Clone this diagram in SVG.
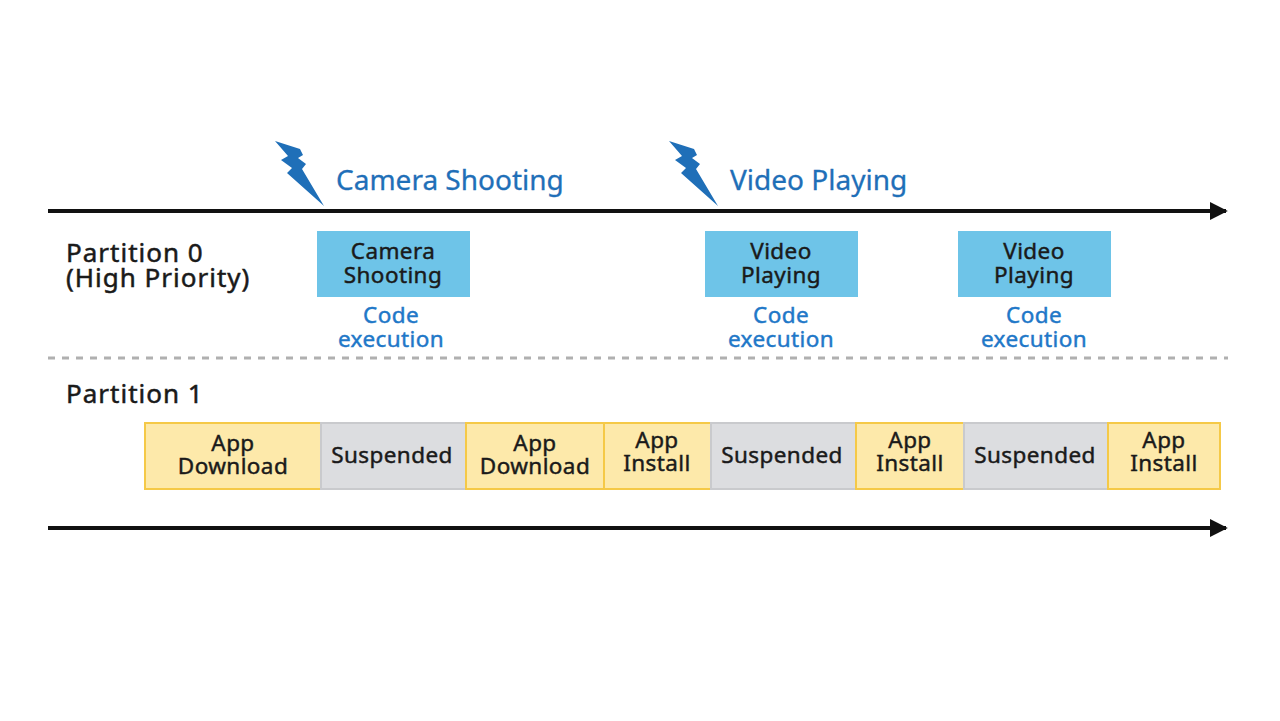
<svg xmlns="http://www.w3.org/2000/svg" width="1280" height="721" viewBox="0 0 1280 721">
<defs>
<marker id="arr" viewBox="0 0 10 10" refX="9" refY="5" markerWidth="4.5" markerHeight="4.5" orient="auto" markerUnits="strokeWidth"><path d="M0,0 L10,5 L0,10 Z" fill="#111"/></marker>
<path id="bolt" d="M275,141 L300,149 L303,155 L298,158 L306,164 L302,169 L324,206 L287,173 L292,168 L281,160 L288,156 Z"/>
</defs>
<style>
.t{font-family:"Noto Sans","DejaVu Sans",sans-serif;font-weight:400;}
.lbl{font-size:26px;fill:#1a1a1a;stroke:#1a1a1a;stroke-width:0.5px;letter-spacing:1px;}
.ev{font-size:28px;fill:#1f6fb8;stroke:#1f6fb8;stroke-width:0.3px;}
.box{font-size:22.5px;fill:#1a1a1a;stroke:#1a1a1a;stroke-width:0.45px;text-anchor:middle;letter-spacing:0.4px;}
.code{font-size:22.5px;fill:#1f78c8;stroke:#1f78c8;stroke-width:0.45px;text-anchor:middle;letter-spacing:0.4px;}
.blue{fill:#6ec4e8;}
.yel{fill:#fde9aa;stroke:#f5c947;stroke-width:2;}
.gray{fill:#dcdde0;stroke:#c9cacd;stroke-width:2;}
.axis{stroke:#111;stroke-width:4;fill:none;}
</style>
<rect width="1280" height="721" fill="#fff"/>
<g id="connectors">
<line class="axis" x1="48" y1="211" x2="1226" y2="211" marker-end="url(#arr)"/>
<line class="axis" x1="48" y1="528" x2="1226" y2="528" marker-end="url(#arr)"/>
<line x1="48" y1="358" x2="1228" y2="358" stroke="#b0b0b0" stroke-width="3" stroke-dasharray="7,7"/>
</g>
<g id="event-camera">
<use href="#bolt" fill="#1f6fb8"/>
<text class="t ev" x="336" y="190">Camera Shooting</text>
</g>
<g id="event-video">
<use href="#bolt" fill="#1f6fb8" transform="translate(394,0)"/>
<text class="t ev" x="730" y="190">Video Playing</text>
</g>
<g id="partition0-label">
<text class="t lbl" x="66" y="262"><tspan x="66">Partition 0</tspan><tspan x="66" dy="25">(High Priority)</tspan></text>
</g>
<g id="partition1-label">
<text class="t lbl" x="66" y="403">Partition 1</text>
</g>
<g id="p0-camera">
<rect class="blue" x="317" y="231" width="153" height="66"/>
<text class="t box" y="259"><tspan x="393">Camera</tspan><tspan x="393" dy="24">Shooting</tspan></text>
<text class="t code" y="323"><tspan x="391">Code</tspan><tspan x="391" dy="24">execution</tspan></text>
</g>
<g id="p0-video1">
<rect class="blue" x="705" y="231" width="153" height="66"/>
<text class="t box" y="259"><tspan x="781">Video</tspan><tspan x="781" dy="24">Playing</tspan></text>
<text class="t code" y="323"><tspan x="781">Code</tspan><tspan x="781" dy="24">execution</tspan></text>
</g>
<g id="p0-video2">
<rect class="blue" x="958" y="231" width="153" height="66"/>
<text class="t box" y="259"><tspan x="1034">Video</tspan><tspan x="1034" dy="24">Playing</tspan></text>
<text class="t code" y="323"><tspan x="1034">Code</tspan><tspan x="1034" dy="24">execution</tspan></text>
</g>
<g id="p1-download1">
<rect class="yel" x="145" y="423" width="176" height="66"/>
<text class="t box" y="451"><tspan x="233">App</tspan><tspan x="233" dy="23">Download</tspan></text>
</g>
<g id="p1-suspended1">
<rect class="gray" x="321" y="423" width="145" height="66"/>
<text class="t box" x="392" y="463">Suspended</text>
</g>
<g id="p1-download2">
<rect class="yel" x="466" y="423" width="138" height="66"/>
<text class="t box" y="451"><tspan x="535">App</tspan><tspan x="535" dy="23">Download</tspan></text>
</g>
<g id="p1-install1">
<rect class="yel" x="604" y="423" width="107" height="66"/>
<text class="t box" y="448"><tspan x="657">App</tspan><tspan x="657" dy="23">Install</tspan></text>
</g>
<g id="p1-suspended2">
<rect class="gray" x="711" y="423" width="145" height="66"/>
<text class="t box" x="782" y="463">Suspended</text>
</g>
<g id="p1-install2">
<rect class="yel" x="856" y="423" width="108" height="66"/>
<text class="t box" y="448"><tspan x="910">App</tspan><tspan x="910" dy="23">Install</tspan></text>
</g>
<g id="p1-suspended3">
<rect class="gray" x="964" y="423" width="144" height="66"/>
<text class="t box" x="1035" y="463">Suspended</text>
</g>
<g id="p1-install3">
<rect class="yel" x="1108" y="423" width="112" height="66"/>
<text class="t box" y="448"><tspan x="1164">App</tspan><tspan x="1164" dy="23">Install</tspan></text>
</g>
</svg>
